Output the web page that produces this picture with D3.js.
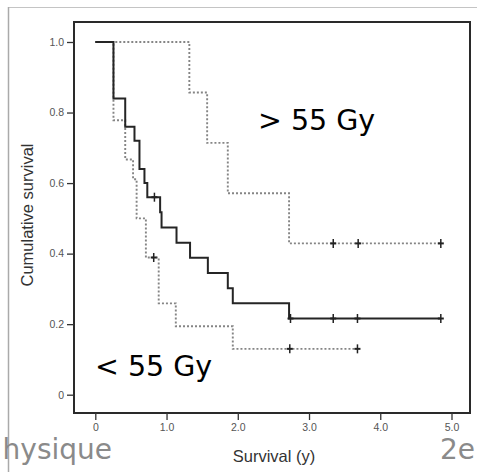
<!DOCTYPE html>
<html>
<head>
<meta charset="utf-8">
<script src="https://cdn.jsdelivr.net/npm/d3@7"></script>
<style>
  html, body { margin: 0; padding: 0; background: #fff; }
  svg { display: block; }
</style>
</head>
<body>
<svg id="chart" width="477" height="472"></svg>
<script>
// Kaplan–Meier curves: all patients, dose > 55 Gy and dose < 55 Gy
const allTimes = [0, 0.255, 0.42, 0.55, 0.62, 0.69, 0.73, 0.91, 0.93, 1.14, 1.33, 1.58, 1.86, 1.93, 2.72, 4.85];
const allSurv  = [1, 0.84, 0.76, 0.72, 0.64, 0.60, 0.56, 0.517, 0.474, 0.431, 0.388, 0.345, 0.302, 0.259, 0.216, 0.216];
const allCensorTimes = [0.83, 2.74, 3.34, 3.68, 4.85];
const allCensorSurv  = [0.56, 0.216, 0.216, 0.216, 0.216];

const highTimes = [0, 1.32, 1.57, 1.86, 2.72, 4.85];
const highSurv  = [1, 0.857, 0.714, 0.571, 0.429, 0.429];
const highCensorTimes = [3.34, 3.69, 4.85];
const highCensorSurv  = [0.429, 0.429, 0.429];

const lowTimes = [0, 0.255, 0.42, 0.53, 0.58, 0.71, 0.89, 1.13, 1.93, 3.68];
const lowSurv  = [1, 0.778, 0.667, 0.611, 0.5, 0.389, 0.259, 0.194, 0.13, 0.13];
const lowCensorTimes = [0.82, 2.73, 3.68];
const lowCensorSurv  = [0.389, 0.13, 0.13];

const xTicks = [0, 1, 2, 3, 4, 5];
const yTicks = [0, 0.2, 0.4, 0.6, 0.8, 1.0];
const groupLabels = ["> 55 Gy", "< 55 Gy"];

const svg = d3.select("#chart");

// page frame lines
svg.append("line").attr("x1", 8).attr("x2", 477).attr("y1", 7.5).attr("y2", 7.5)
  .attr("stroke", "#c4c4c4").attr("stroke-width", 1.2);
svg.append("line").attr("x1", 8.5).attr("x2", 8.5).attr("y1", 7).attr("y2", 472)
  .attr("stroke", "#aaa").attr("stroke-width", 1.5);

// plot box
const box = { left: 74, top: 22, right: 470, bottom: 413 };
const x = d3.scaleLinear().domain([0, 5]).range([95.3, 451.5]);
const y = d3.scaleLinear().domain([0, 1]).range([394.7, 42]);

svg.append("rect")
  .attr("x", box.left).attr("y", box.top)
  .attr("width", box.right - box.left).attr("height", box.bottom - box.top)
  .attr("fill", "none").attr("stroke", "#2a2a2a").attr("stroke-width", 2);

// axes
const yAxis = d3.axisLeft(y).tickValues(yTicks).tickSize(7).tickPadding(3)
  .tickFormat(d => d === 0 ? "0" : d3.format(".1f")(d));
const gy = svg.append("g").attr("transform", `translate(${box.left},0)`).call(yAxis);

const xAxis = d3.axisBottom(x).tickValues(xTicks).tickSize(7).tickPadding(4)
  .tickFormat(d => d === 0 ? "0" : d3.format(".1f")(d));
const gx = svg.append("g").attr("transform", `translate(0,${box.bottom})`).call(xAxis);

[gx, gy].forEach(g => {
  g.select(".domain").remove();
  g.selectAll(".tick line").attr("stroke", "#333").attr("stroke-width", 1.3);
  g.selectAll(".tick text")
    .attr("fill", "#555")
    .style("font-family", "'Liberation Sans', Arial, sans-serif")
    .style("font-size", "10.5px");
});

// axis titles
svg.append("text")
  .attr("transform", "translate(33,215) rotate(-90)")
  .attr("text-anchor", "middle")
  .attr("fill", "#333")
  .style("font-family", "'Liberation Sans', Arial, sans-serif")
  .style("font-size", "16.5px")
  .text("Cumulative survival");

svg.append("text")
  .attr("x", 274).attr("y", 462)
  .attr("text-anchor", "middle")
  .attr("fill", "#333")
  .style("font-family", "'Liberation Sans', Arial, sans-serif")
  .style("font-size", "16.5px")
  .text("Survival (y)");

// step curves
const step = d3.line().x(d => x(d[0])).y(d => y(d[1])).curve(d3.curveStepAfter);
const pts = (ts, ss) => ts.map((t, i) => [t, ss[i]]);

const dotted = { stroke: "#858585", width: 1.9, dash: "2,2" };

function drawCurve(ts, ss, style) {
  svg.append("path")
    .datum(pts(ts, ss))
    .attr("d", step)
    .attr("fill", "none")
    .attr("stroke", style.stroke)
    .attr("stroke-width", style.width)
    .attr("stroke-dasharray", style.dash || null);
}

function drawCensors(ts, ss) {
  const g = svg.append("g");
  const data = pts(ts, ss);
  g.selectAll("line.v").data(data).join("line")
    .attr("x1", d => x(d[0])).attr("x2", d => x(d[0]))
    .attr("y1", d => y(d[1]) - 4.5).attr("y2", d => y(d[1]) + 4.5)
    .attr("stroke", "#222").attr("stroke-width", 1.5);
  g.selectAll("line.h").data(data).join("line")
    .attr("x1", d => x(d[0]) - 3).attr("x2", d => x(d[0]) + 3)
    .attr("y1", d => y(d[1])).attr("y2", d => y(d[1]))
    .attr("stroke", "#222").attr("stroke-width", 2);
}

drawCurve(highTimes, highSurv, dotted);
drawCurve(lowTimes, lowSurv, dotted);
drawCurve(allTimes, allSurv, { stroke: "#252525", width: 2 });

drawCensors(highCensorTimes, highCensorSurv);
drawCensors(lowCensorTimes, lowCensorSurv);
drawCensors(allCensorTimes, allCensorSurv);

// group labels
const labelFont = "'DejaVu Sans', Verdana, sans-serif";
svg.append("text").attr("x", 258).attr("y", 130)
  .attr("fill", "#000").style("font-family", labelFont).style("font-size", "28.5px")
  .text(groupLabels[0]);
svg.append("text").attr("x", 95).attr("y", 376)
  .attr("fill", "#000").style("font-family", labelFont).style("font-size", "28.5px")
  .text(groupLabels[1]);

// footer text of the slide
svg.append("text").attr("x", 112).attr("y", 459).attr("text-anchor", "end")
  .attr("fill", "#8a8a8a").style("font-family", labelFont).style("font-size", "28px")
  .text("hysique");
svg.append("text").attr("x", 475).attr("y", 459).attr("text-anchor", "end")
  .attr("fill", "#8a8a8a").style("font-family", labelFont).style("font-size", "28px")
  .text("2e");
</script>
</body>
</html>
